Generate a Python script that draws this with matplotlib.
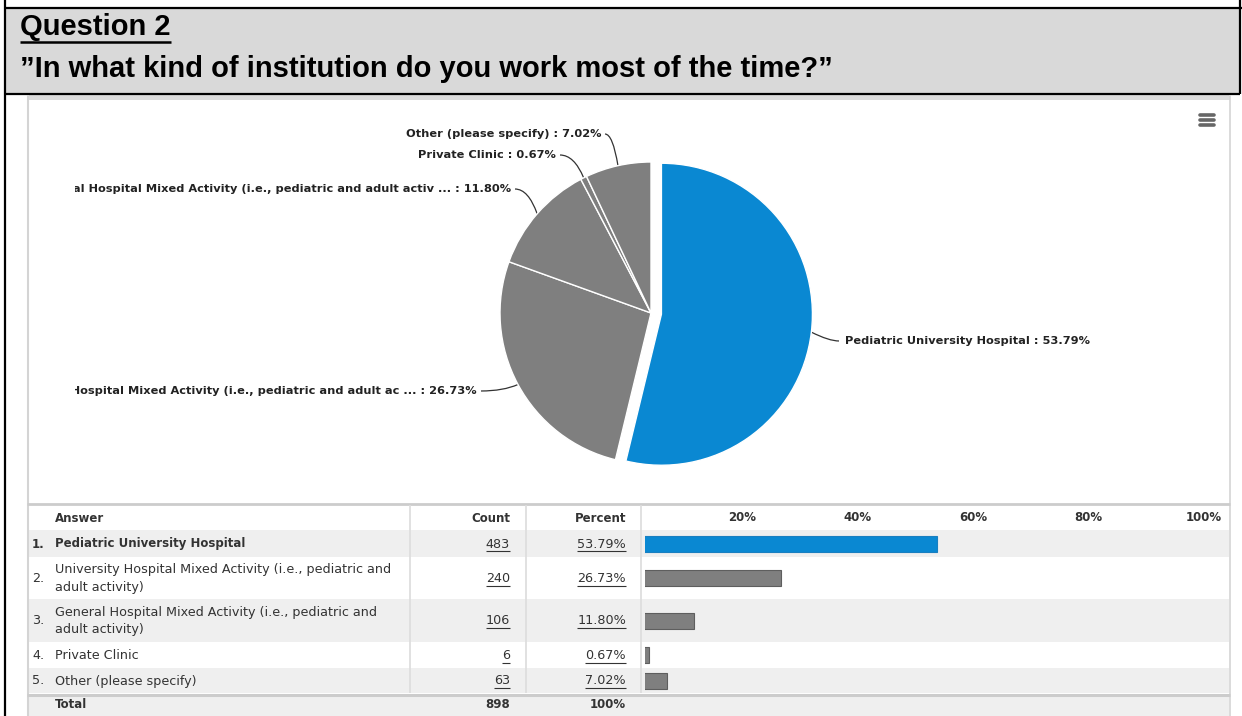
import numpy as np
import matplotlib
matplotlib.use("Agg")
import matplotlib.pyplot as plt
from matplotlib.patches import Rectangle, PathPatch
from matplotlib.path import Path
from matplotlib.transforms import Bbox, TransformedBbox

# ---------------- data ----------------
question_no = "Question 2"
question_text = "\u201dIn what kind of institution do you work most of the time?\u201d"

answers = [
    "Pediatric University Hospital",
    "University Hospital Mixed Activity (i.e., pediatric and adult activity)",
    "General Hospital Mixed Activity (i.e., pediatric and adult activity)",
    "Private Clinic",
    "Other (please specify)",
]
answer_lines = [
    ["Pediatric University Hospital"],
    ["University Hospital Mixed Activity (i.e., pediatric and", "adult activity)"],
    ["General Hospital Mixed Activity (i.e., pediatric and", "adult activity)"],
    ["Private Clinic"],
    ["Other (please specify)"],
]
pie_names = [
    "Pediatric University Hospital",
    "University Hospital Mixed Activity (i.e., pediatric and adult ac ...",
    "General Hospital Mixed Activity (i.e., pediatric and adult activ ...",
    "Private Clinic",
    "Other (please specify)",
]
counts = [483, 240, 106, 6, 63]
percents = [53.79, 26.73, 11.80, 0.67, 7.02]
total_count = 898
total_pct = "100%"
bar_ticks = [20, 40, 60, 80, 100]

BLUE = "#0a88d2"
GRAY = "#7f7f7f"
slice_colors = [BLUE, GRAY, GRAY, GRAY, GRAY]
TXT = "#333333"

W, H = 1242, 716
fig = plt.figure(figsize=(W / 100, H / 100), dpi=100)
fig.patch.set_facecolor("white")

# Background canvas in pixel units (origin top-left)
bg = fig.add_axes([0, 0, 1, 1])
bg.set_xlim(0, W)
bg.set_ylim(H, 0)
bg.axis("off")


def rect(x0, y0, x1, y1, **kw):
    bg.add_patch(Rectangle((x0, y0), x1 - x0, y1 - y0, **kw))


def hline(y, x0, x1, **kw):
    bg.plot([x0, x1], [y, y], solid_capstyle="butt", **kw)


def vline(x, y0, y1, **kw):
    bg.plot([x, x], [y0, y1], solid_capstyle="butt", **kw)


# ---------------- header box ----------------
rect(5, 8, 1240, 94, facecolor="#d9d9d9", edgecolor="none", zorder=0)
hline(8, 5, 1242, color="black", lw=1.6)
hline(94, 5, 1240, color="black", lw=1.6)
vline(5, 0, H, color="black", lw=1.6)
vline(1240, 0, 94, color="black", lw=1.6)

hfont = dict(family="Liberation Sans", weight="bold", size=21, color="black")
t_q = bg.text(20, 27, question_no, ha="left", va="center", **hfont)
bg.text(20, 69, question_text, ha="left", va="center", **hfont)

renderer = fig.canvas.get_renderer()
inv = bg.transData.inverted()


def underline(t, y, lw=1.0, color=TXT):
    bb = t.get_window_extent(renderer)
    (x0, _), (x1, _) = inv.transform([(bb.x0, bb.y0), (bb.x1, bb.y1)])
    hline(y, x0, x1, color=color, lw=lw)


underline(t_q, 41.5, lw=1.8, color="black")

# ---------------- chart panel ----------------
rect(27, 95, 1230, 100, facecolor="#dcdcdc", edgecolor="none", zorder=0)
vline(27.5, 95, H, color="#d4d4d4", lw=1.5)
vline(1229.5, 95, H, color="#d4d4d4", lw=1.2)

# menu icon
for yy in (115, 120, 125):
    bg.plot([1200, 1214], [yy, yy], color="#666666", lw=2.6, solid_capstyle="round")

# ---------------- pie ----------------
cx, cy, r = 651, 313, 151
half = 182
pie_ax = fig.add_axes([(cx - half) / W, (H - cy - half) / H, 2 * half / W, 2 * half / H])
explode = [10.5 / r, 0, 0, 0, 0]
wedges, _ = pie_ax.pie(
    percents, colors=slice_colors, startangle=90, counterclock=False,
    explode=explode, radius=1.0,
    wedgeprops=dict(edgecolor="white", linewidth=1.0),
)
pie_ax.set_xlim(-half / r, half / r)
pie_ax.set_ylim(-half / r, half / r)
pie_ax.axis("off")

# connector anchors on the slice edges (middle angle of each slice)
fr = np.array(percents) / np.sum(percents)
cum = np.concatenate([[0], np.cumsum(fr)])
mid = 90 - 360 * (cum[:-1] + fr / 2)
anchors = []
for i, a in enumerate(np.deg2rad(mid)):
    ox = explode[i] * np.cos(a)
    oy = explode[i] * np.sin(a)
    p = pie_ax.transData.transform((ox + np.cos(a), oy + np.sin(a)))
    anchors.append(inv.transform(p))

label_pos = [(845, 341, "left"), (477, 391, "right"), (511, 189, "right"),
             (556, 155, "right"), (601, 134, "right")]
clip = TransformedBbox(Bbox([[75, 0], [1230, H]]), bg.transData)
lfont = dict(family="DejaVu Sans", weight="bold", size=8.2, color="#222222")
for i, (lx, ly, ha) in enumerate(label_pos):
    t = bg.text(lx, ly, f"{pie_names[i]} : {percents[i]:.2f}%", ha=ha, va="center", **lfont)
    t.set_clip_box(clip)
    t.set_clip_on(True)
    ax_, ay_ = anchors[i]
    if ha == "left":
        sx = lx - 6
        ctrl = (sx - 10, ly)
    else:
        sx = lx + 4
        ctrl = (sx + 0.6 * (ax_ - sx), ly)
    path = Path([(sx, ly), ctrl, (ax_, ay_)], [Path.MOVETO, Path.CURVE3, Path.CURVE3])
    bg.add_patch(PathPatch(path, facecolor="none", edgecolor="#333333", lw=0.9))

# ---------------- table ----------------
tab_top, hdr_bot = 504, 530
row_edges = [530, 557, 599, 642, 668, 693]
tot_top, tot_bot = 696, H

hline(tab_top, 27, 1230, color="#cccccc", lw=2)
for i in range(5):
    if i % 2 == 0:
        rect(28, row_edges[i], 1229, row_edges[i + 1], facecolor="#efefef", edgecolor="none", zorder=0)
hline(694.5, 27, 1230, color="#cccccc", lw=2.2)
rect(28, tot_top, 1229, tot_bot, facecolor="#efefef", edgecolor="none", zorder=0)
for x in (409.5, 525.5, 640.5):
    vline(x, 505, 693, color="#dcdcdc", lw=1.2)

tfont = dict(family="DejaVu Sans", size=9.2, color=TXT)
bfont = dict(family="DejaVu Sans", size=8.5, color=TXT, weight="bold")

hy = 518
bg.text(55, hy, "Answer", ha="left", va="center", **bfont)
bg.text(510, hy, "Count", ha="right", va="center", **bfont)
bg.text(626, hy, "Percent", ha="right", va="center", **bfont)

for i in range(5):
    yc = (row_edges[i] + row_edges[i + 1]) / 2 + 0.5
    f = bfont if i == 0 else tfont
    lines = answer_lines[i]
    bg.text(32, yc, f"{i + 1}.", ha="left", va="center", **f)
    if len(lines) == 1:
        bg.text(55, yc, lines[0], ha="left", va="center", **f)
    else:
        bg.text(55, yc - 8.5, lines[0], ha="left", va="center", **f)
        bg.text(55, yc + 8.5, lines[1], ha="left", va="center", **f)
    tc = bg.text(510, yc, f"{counts[i]}", ha="right", va="center", **tfont)
    tp = bg.text(626, yc, f"{percents[i]:.2f}%", ha="right", va="center", **tfont)
    underline(tc, yc + 7, lw=0.8)
    underline(tp, yc + 7, lw=0.8)

ty = 705
bg.text(55, ty, "Total", ha="left", va="center", **bfont)
bg.text(510, ty, f"{total_count}", ha="right", va="center", **bfont)
bg.text(626, ty, total_pct, ha="right", va="center", **bfont)

# ---------------- bar column ----------------
zero_px, px_per_pct = 626.3, 5.776
bx0, bx1 = 645, 1229
by0, by1 = 530, 693
bar_ax = fig.add_axes([bx0 / W, (H - by1) / H, (bx1 - bx0) / W, (by1 - by0) / H])
bar_ax.set_xlim((bx0 - zero_px) / px_per_pct, (bx1 - zero_px) / px_per_pct)
bar_ax.set_ylim(by1, by0)
bar_ax.patch.set_alpha(0)
for s in bar_ax.spines.values():
    s.set_visible(False)

centers = [(row_edges[i] + row_edges[i + 1]) / 2 for i in range(5)]
x_start = (bx0 + 0.5 - zero_px) / px_per_pct
min_len = 3.2 / px_per_pct
widths = np.maximum(np.array(percents), x_start + min_len)
edge_cols = ["#1a7fc0"] + ["#5e5e5e"] * 4
bar_ax.barh(centers, widths, height=16, left=0, color=slice_colors,
            edgecolor=edge_cols, linewidth=0.8)

bar_ax.set_yticks([])
bar_ax.xaxis.tick_top()
bar_ax.set_xticks(bar_ticks)
bar_ax.set_xticklabels([f"{v}%" for v in bar_ticks])
bar_ax.tick_params(axis="x", length=0, pad=4.5, labelsize=8.5, labelcolor=TXT)
for lab in bar_ax.get_xticklabels():
    lab.set_fontweight("bold")
    lab.set_family("DejaVu Sans")

fig.savefig("out.png", dpi=100, facecolor="white")
